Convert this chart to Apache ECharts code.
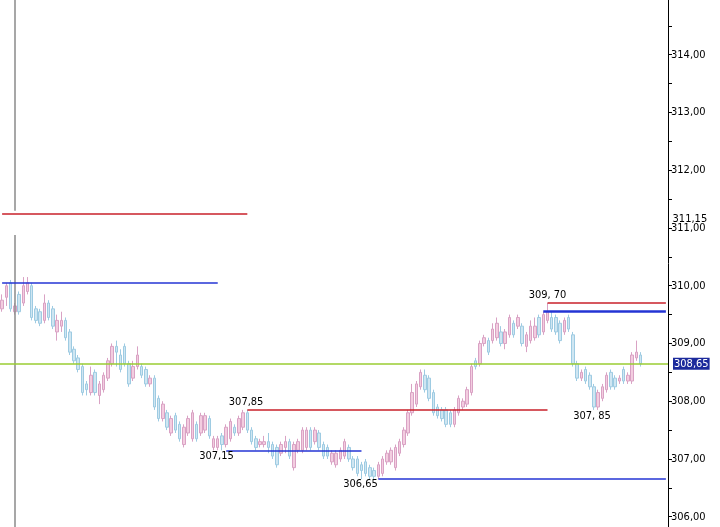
<!DOCTYPE html>
<html>
<head>
<meta charset="utf-8">
<script src="https://cdn.jsdelivr.net/npm/echarts@6/dist/echarts.min.js"></script>
<style>
html,body{margin:0;padding:0;background:#fff;}
#chart{width:720px;height:527px;}
</style>
</head>
<body>
<div id="chart"></div>
<script>
// Candle values: [open, close, low, high]
const opens = [309.60,309.80,310.05,309.55,309.85,309.70,309.90,310.00,309.60,309.55,
309.40,309.70,309.60,309.20,309.30,309.40,309.20,308.90,308.75,308.60,
308.30,308.15,308.50,308.10,308.20,308.40,308.65,308.95,308.80,308.95,
308.65,308.40,308.60,308.60,308.55,308.30,308.40,308.05,307.70,307.80,
307.45,307.75,307.60,307.25,307.45,307.35,307.60,307.45,307.50,307.70,
307.20,307.20,307.40,307.25,307.35,307.55,307.45,307.55,307.80,307.50,
307.35,307.25,307.25,307.30,307.25,307.20,307.10,307.20,307.30,306.85,
307.15,307.15,307.20,307.50,307.30,307.45,307.25,307.20,306.95,306.90,
307.00,307.05,307.20,307.00,307.00,306.90,306.95,306.85,306.80,306.70,
306.75,306.95,306.95,306.85,307.10,307.25,307.45,307.80,307.95,308.25,
308.45,308.40,308.15,307.90,307.85,307.85,307.80,307.60,307.80,307.90,
307.95,308.15,308.70,308.65,309.00,309.05,309.05,309.10,309.20,309.00,
309.15,309.35,309.30,309.30,308.95,309.05,309.10,309.45,309.20,309.40,
309.45,309.45,309.35,309.20,309.45,309.15,308.65,308.40,308.55,308.45,
308.25,307.90,308.05,308.20,308.50,308.40,308.35,308.55,308.35,308.35,
308.75,308.80];
const closes = [309.75,310.00,309.60,309.65,309.55,310.00,310.05,309.45,309.40,309.35,
309.70,309.45,309.30,309.40,309.40,309.10,308.85,308.70,308.55,308.15,
308.20,308.45,308.15,308.30,308.45,308.70,308.95,308.85,308.55,308.65,
308.30,308.60,308.80,308.45,308.30,308.40,307.90,307.70,307.95,307.55,
307.70,307.50,307.35,307.55,307.70,307.80,307.35,307.75,307.75,307.40,
307.35,307.35,307.25,307.55,307.65,307.45,307.70,307.80,307.50,307.30,
307.20,307.30,307.30,307.20,307.05,306.90,307.25,307.30,307.05,307.25,
307.30,307.50,307.50,307.20,307.50,307.20,307.05,307.05,307.10,307.10,
307.15,307.30,307.00,306.85,306.75,306.80,306.75,306.70,306.70,306.90,
307.00,307.10,307.15,307.20,307.30,307.50,307.80,308.15,308.30,308.50,
308.20,308.05,307.80,307.75,307.70,307.60,307.60,307.85,308.05,308.00,
308.20,308.60,308.60,309.00,309.10,308.85,309.25,309.35,309.00,309.20,
309.45,309.15,309.45,309.00,309.15,309.30,309.30,309.15,309.50,309.55,
309.25,309.20,309.05,309.40,309.25,308.65,308.40,308.50,308.35,308.25,
307.90,308.15,308.25,308.45,308.25,308.25,308.40,308.35,308.45,308.80,
308.85,308.65];
const lows = [309.55,309.65,309.55,309.50,309.50,309.65,309.85,309.40,309.35,309.30,
309.35,309.40,309.25,309.05,309.20,309.05,308.80,308.65,308.50,308.10,
308.10,308.10,308.10,307.95,308.15,308.35,308.60,308.60,308.50,308.60,
308.25,308.35,308.55,308.40,308.25,308.25,307.85,307.65,307.65,307.50,
307.40,307.45,307.30,307.20,307.40,307.30,307.30,307.40,307.45,307.35,
307.15,307.15,307.15,307.20,307.30,307.40,307.40,307.50,307.45,307.25,
307.15,307.20,307.20,307.10,307.00,306.85,307.05,307.10,307.00,306.80,
307.10,307.10,307.15,307.15,307.25,307.15,307.00,307.00,306.90,306.85,
306.95,307.00,306.95,306.80,306.70,306.65,306.70,306.65,306.65,306.65,
306.70,306.90,306.90,306.80,307.05,307.20,307.40,307.75,307.90,308.20,
308.15,308.00,307.75,307.70,307.65,307.55,307.55,307.55,307.75,307.85,
307.90,308.10,308.55,308.60,308.95,308.80,309.00,309.05,308.95,308.90,
309.10,309.10,309.25,308.95,308.85,309.00,309.05,309.10,309.15,309.35,
309.20,309.15,309.00,309.15,309.20,308.60,308.35,308.35,308.30,308.20,
307.85,307.85,308.00,308.15,308.20,308.20,308.30,308.30,308.30,308.30,
308.70,308.60];
const highs = [309.85,310.05,310.10,309.70,309.90,310.15,310.15,310.05,309.65,309.60,
309.85,309.75,309.65,309.50,309.55,309.45,309.25,308.95,308.80,308.65,
308.35,308.60,308.55,308.35,308.50,308.75,309.00,309.05,308.90,309.00,
308.70,308.70,308.95,308.65,308.60,308.45,308.45,308.10,308.00,307.85,
307.75,307.80,307.65,307.60,307.75,307.85,307.65,307.80,307.80,307.75,
307.40,307.40,307.45,307.60,307.70,307.60,307.75,307.85,307.85,307.55,
307.40,307.35,307.40,307.45,307.30,307.25,307.30,307.40,307.35,307.30,
307.35,307.55,307.55,307.55,307.55,307.50,307.30,307.25,307.15,307.15,
307.20,307.35,307.25,307.05,307.05,306.95,307.00,306.90,306.85,306.95,
307.05,307.15,307.20,307.25,307.35,307.55,307.85,308.30,308.35,308.55,
308.55,308.45,308.20,307.95,307.90,307.90,307.85,307.90,308.10,308.05,
308.25,308.65,308.75,309.05,309.15,309.10,309.35,309.45,309.30,309.25,
309.50,309.40,309.50,309.35,309.20,309.40,309.45,309.50,309.55,309.70,
309.55,309.50,309.40,309.45,309.50,309.20,308.70,308.55,308.60,308.50,
308.30,308.20,308.30,308.50,308.55,308.45,308.45,308.60,308.50,308.85,
309.05,308.85];

const slotCount = 158;           // category slots across the plot (last few empty)
const categories = Array.from({length: slotCount}, (_, i) => String(i + 1));

// Price levels
const levelLast = 308.65;        // green line
const levelTopRed = 311.25;
const levelTopLabel = 311.15;
const levelTopBlue = 310.05;
const levelRedMid = 307.85;
const levelBlueMid = 307.15;
const levelBlueLow = 306.65;
const levelRedHigh = 309.70;
const levelBlueHigh = 309.55;
const cursorIdx = 3;             // vertical cursor line
const cursorGap = [311.30, 310.88];

const yMin = 305.5, yMax = 315, yStep = 0.5;

const candles = opens.map((o, i) => [o, closes[i], lows[i], highs[i]]);
while (candles.length < slotCount) candles.push('-');

const fmt = v => v.toFixed(2).replace('.', ',');
const FONT = "'Liberation Sans Narrow','DejaVu Sans Condensed','Liberation Sans',sans-serif";

const RED = '#c8202a', BLUE = '#2434d4', GREEN = '#9acd32', GRAY = '#8a8a8a';
const lastIdx = slotCount - 1;

function seg(x0, x1, v, color, width) {
  const ls = {color: color, width: width, type: 'solid', opacity: 1};
  return [{coord: [x0, v], lineStyle: ls}, {coord: [x1, v], lineStyle: ls}];
}
function tag(x, v, text, off) {
  return {coord: [x, v], value: text, symbol: 'rect', symbolSize: 1,
    itemStyle: {color: 'rgba(0,0,0,0)'},
    label: {show: true, position: 'inside', formatter: text, offset: off,
      color: '#000', fontSize: 11, fontFamily: FONT}};
}
// helper series that only carries mark lines, in one colour
function levelSeries(color, width, lines, label) {
  return {
    type: 'line', data: [], silent: true, symbol: 'none', color: color,
    lineStyle: {color: color}, itemStyle: {color: color},
    markLine: {
      symbol: ['none', 'none'], silent: true, animation: false,
      emphasis: {disabled: true},
      lineStyle: {color: color, width: width, type: 'solid', opacity: 1},
      label: label || {show: false},
      data: lines
    }
  };
}
const lastLabel = {show: true, position: 'end', distance: 5, formatter: fmt(levelLast), color: '#fff',
  backgroundColor: '#1c2a9c', padding: [1, 1, 0, 1], fontSize: 11, fontFamily: FONT};

const chart = echarts.init(document.getElementById('chart'), null, {renderer: 'canvas'});
chart.setOption({
  animation: false,
  backgroundColor: '#fff',
  grid: {left: 0, right: 52, top: -3, height: 548.6, containLabel: false, outerBoundsMode: 'none'},
  xAxis: {type: 'category', data: categories, boundaryGap: true, show: false},
  yAxis: {
    type: 'value', position: 'right', min: yMin, max: yMax, interval: yStep,
    axisLine: {show: true, lineStyle: {color: '#000', width: 1}},
    axisTick: {show: true, length: 4, lineStyle: {color: '#000'}},
    splitLine: {show: false},
    axisLabel: {margin: 3, color: '#000', fontSize: 11, fontFamily: FONT,
      formatter: v => (v < yMax - 1e-6 && Math.abs(v - Math.round(v)) < 1e-6 ? fmt(v) : '')}
  },
  series: [
    levelSeries(GRAY, 1.5, [
      [{coord: [cursorIdx, yMax]}, {coord: [cursorIdx, cursorGap[0]]}],
      [{coord: [cursorIdx, cursorGap[1]]}, {coord: [cursorIdx, yMin]}]
    ]),
    levelSeries(RED, 1.5, [
      seg(0, 58, levelTopRed, RED, 1.5),
      seg(58, 129, levelRedMid, RED, 1.5),
      seg(129, lastIdx, levelRedHigh, RED, 1.5)
    ]),
    levelSeries(BLUE, 1.6, [
      seg(0, 51, levelTopBlue, BLUE, 1.6),
      seg(53, 85, levelBlueMid, BLUE, 1.6),
      seg(89, lastIdx, levelBlueLow, BLUE, 1.6),
      seg(128, lastIdx, levelBlueHigh, BLUE, 2.6)
    ]),
    {
      type: 'candlestick',
      data: candles,
      barWidth: 3,
      itemStyle: {color: '#f3cde0', color0: '#cfe6f2', borderColor: '#d9a2c4', borderColor0: '#9ecbe2', borderWidth: 1},
      markPoint: {
        silent: true, animation: false,
        data: [
          tag(57, levelRedMid, fmt(levelRedMid), [3, -8]),
          tag(50, levelBlueMid, fmt(levelBlueMid), [3, 6]),
          tag(85, levelBlueLow, fmt(levelBlueLow), [-1, 5]),
          tag(129, levelRedHigh, '309, 70', [0, -8]),
          tag(140, levelRedMid, '307, 85', [-2, 6]),
          tag(lastIdx, levelTopLabel, fmt(levelTopLabel), [24, 0])
        ]
      }
    },
    levelSeries(GREEN, 1.5, [
      {yAxis: levelLast, lineStyle: {color: GREEN, width: 1.5, type: 'solid', opacity: 1}, label: lastLabel}
    ], lastLabel)
  ]
});
</script>
</body>
</html>
